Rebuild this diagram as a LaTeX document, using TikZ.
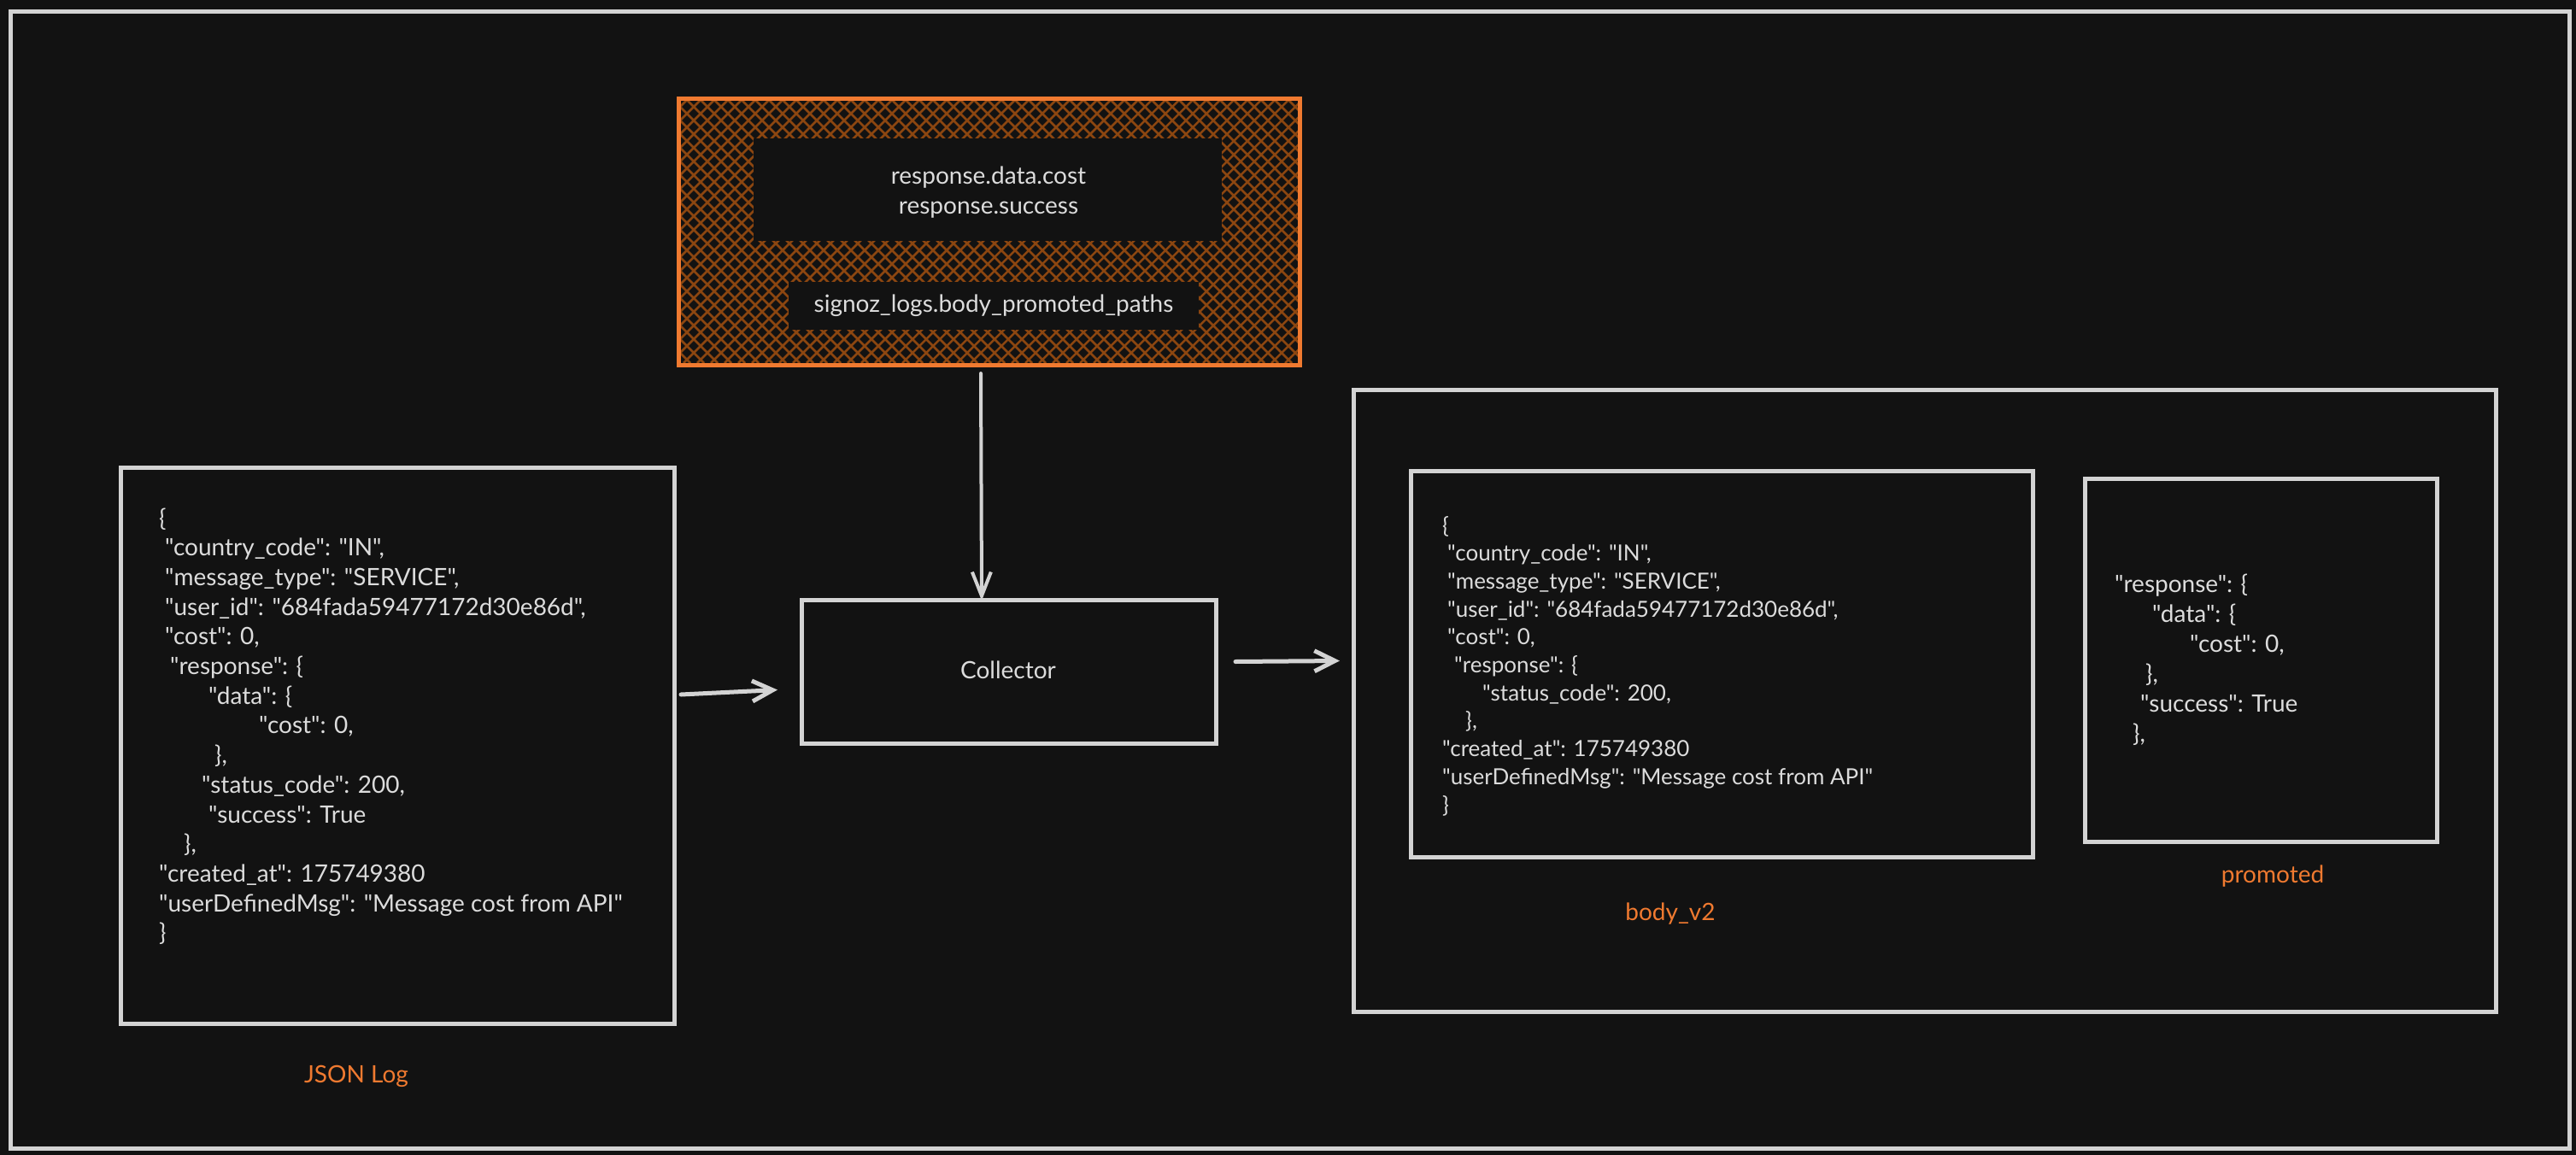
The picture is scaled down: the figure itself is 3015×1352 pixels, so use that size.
\documentclass[tikz,border=0pt]{standalone}
\usepackage{fontspec}
\setmainfont{Lato}[Ligatures=TeXOff]
\usetikzlibrary{arrows.meta}
\definecolor{bg}{HTML}{121212}
\definecolor{ink}{HTML}{D3D3D3}
\definecolor{txt}{HTML}{DCDCDC}
\definecolor{orng}{HTML}{F07A30}
\definecolor{hatchc}{HTML}{8C4610}
\begin{document}
\begin{tikzpicture}[x=1pt,y=-1pt,
  box/.style={draw=ink, line width=5pt, inner sep=0pt, anchor=north west},
  jtxt/.style={text=txt, font=\fontsize{28}{34}\selectfont, anchor=base west, inner sep=0pt},
  jtxtb/.style={text=txt, font=\fontsize{26}{32}\selectfont, anchor=base west, inner sep=0pt},
  ctxt/.style={text=txt, font=\fontsize{28}{34}\selectfont, anchor=base, inner sep=0pt},
  lbl/.style={text=orng, font=\fontsize{28}{34}\selectfont, anchor=base, inner sep=0pt},
  hatchline/.style={draw=hatchc, line width=2.5pt},
  arr/.style={draw=ink, line width=5pt, line cap=round, -{Straight Barb[length=24pt,width=24pt,line width=5pt]}},
  thinarr/.style={draw=ink, line width=4pt, line cap=round, -{Straight Barb[length=28pt,width=22pt,line width=4pt]}}
]
% background
\fill[bg] (0,0) rectangle (3015,1352);
\useasboundingbox (0,0) rectangle (3015,1352);
% outer frame
\node[box, minimum width=2995pt, minimum height=1331pt] (frame) at (10,11) {};

% promoted paths box (hatched)
\begin{scope}
  \clip (792,113) rectangle (1519,425);
  \foreach \k in {0,...,66} {
    \draw[hatchline] ({480+\k*16},113) -- ++(312,312);
    \draw[hatchline] ({792+\k*16},113) -- ++(-312,312);
  }
\end{scope}
\fill[bg] (882,162) rectangle (1430,282);
\fill[bg] (923,330) rectangle (1403,386);
\node[draw=orng, line width=5pt, inner sep=0pt, anchor=north west,
      minimum width=727pt, minimum height=312pt] (paths) at (792,113) {};
\node[ctxt] (p1) at (1157,215) {response.data.cost};
\node[ctxt] (p2) at (1157,250) {response.success};
\node[ctxt] (p3) at (1163,365) {signoz\_logs.body\_promoted\_paths};

% JSON log box
\node[box, minimum width=648pt, minimum height=651pt] (json) at (139,545) {};
\foreach \i/\dx/\t in {
  1/0/{\{},
  2/7/{"country\_code": "IN",},
  3/7/{"message\_type": "SERVICE",},
  4/7/{"user\_id": "684fada59477172d30e86d",},
  5/7/{"cost": 0,},
  6/13/{"response": \{},
  7/58/{"data": \{},
  8/117/{"cost": 0,},
  9/65/{\},},
  10/50/{"status\_code": 200,},
  11/58/{"success": True},
  12/29/{\},},
  13/0/{"created\_at": 175749380},
  14/0/{"userDefinedMsg": "Message cost from API"},
  15/0/{\}}
} {
  \node[jtxt] (jl\i) at ({186+\dx},{616+(\i-1)*34.7}) {\t};
}
\node[lbl] (jsonlbl) at (417,1267) {JSON Log};

% collector
\node[box, minimum width=485pt, minimum height=168pt] (coll) at (936,700) {};
\node[ctxt] (colltxt) at (1180,794) {Collector};

% big output box
\node[box, minimum width=1337pt, minimum height=728pt] (big) at (1582,454) {};

% body_v2 box
\node[box, minimum width=728pt, minimum height=452pt] (body) at (1649,549) {};
\foreach \i/\dx/\t in {
  1/0/{\{},
  2/6/{"country\_code": "IN",},
  3/6/{"message\_type": "SERVICE",},
  4/6/{"user\_id": "684fada59477172d30e86d",},
  5/6/{"cost": 0,},
  6/14/{"response": \{},
  7/47/{"status\_code": 200,},
  8/27/{\},},
  9/0/{"created\_at": 175749380},
  10/0/{"userDefinedMsg": "Message cost from API"},
  11/0/{\}}
} {
  \node[jtxtb] (bl\i) at ({1688+\dx},{624+(\i-1)*32.7}) {\t};
}
\node[lbl] (bodylbl) at (1955,1077) {body\_v2};

% promoted box
\node[box, minimum width=412pt, minimum height=425pt] (prom) at (2438,558) {};
\foreach \i/\x/\t in {
  1/2475/{"response": \{},
  2/2519/{"data": \{},
  3/2563/{"cost": 0,},
  4/2511/{\},},
  5/2505/{"success": True},
  6/2496/{\},}
} {
  \node[jtxt] (pl\i) at (\x,{693+(\i-1)*35}) {\t};
}
\node[lbl] (promlbl) at (2660,1033) {promoted};

% connectors
\draw[thinarr] ([xshift=-10pt,yshift=-7pt]paths.south) -- ([xshift=-32pt,yshift=-3pt]coll.north);
\draw[arr] ([xshift=5pt,yshift=60pt]json.east) -- ([xshift=-26pt,yshift=-21pt]coll.west);
\draw[arr] ([xshift=20pt,yshift=12pt]coll.east) -- ([xshift=-14pt,yshift=47pt]big.west);
\end{tikzpicture}
\end{document}
